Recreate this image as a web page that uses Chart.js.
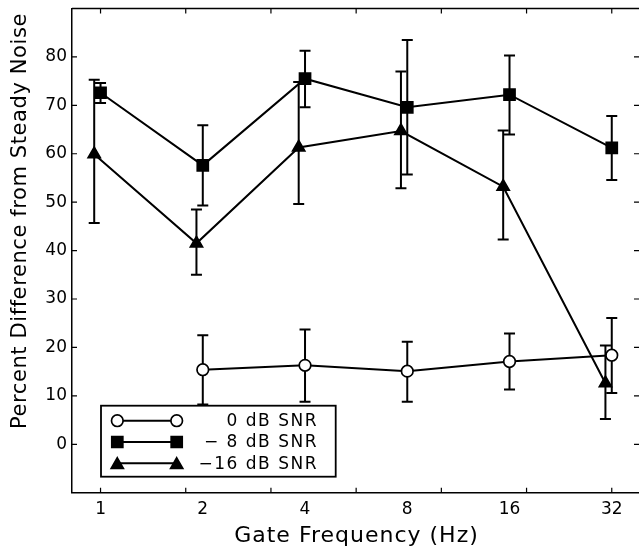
<!DOCTYPE html>
<html>
<head>
<meta charset="utf-8">
<script src="https://cdn.jsdelivr.net/npm/chart.js@4.4.1/dist/chart.umd.min.js"></script>
<style>
html, body { margin: 0; padding: 0; background: #fff; }
canvas { display: block; }
</style>
</head>
<body>
<canvas id="c" width="639" height="550"></canvas>
<script>
// ---- data ----
const frequencies = [1, 2, 4, 8, 16, 32];
const tickLabels = ['1', '2', '4', '8', '16', '32'];
const seriesNames = ['0 dB SNR', '\u2212 8 dB SNR', '\u221216 dB SNR'];
const xTitle = 'Gate Frequency (Hz)';
const yTitle = 'Percent Difference from Steady Noise';

const snr0 = [null, 15.4, 16.3, 15.1, 17.1, 18.4];
const snr0Upper = [null, 22.5, 23.7, 21.2, 22.9, 26.1];
const snr0Lower = [null, 8.2, 8.8, 8.8, 11.3, 10.6];

const snr8 = [72.6, 57.6, 75.5, 69.6, 72.2, 61.2];
const snr8Upper = [74.6, 65.9, 81.3, 83.5, 80.3, 67.8];
const snr8Lower = [70.5, 49.3, 69.6, 55.7, 64.0, 54.6];

const snr16 = [59.9, 41.5, 61.3, 64.7, 53.2, 12.6];
const snr16Upper = [75.3, 48.5, 74.8, 77.0, 64.8, 20.4];
const snr16Lower = [45.7, 35.0, 49.6, 52.9, 42.3, 5.2];

const yTickValues = [0, 10, 20, 30, 40, 50, 60, 70, 80];

// ---- style ----
const FONT = 'DejaVu Sans';
const TRI_SHIFT = 0.958;        // small horizontal stagger of the -16 dB series
const MINOR_STEPS = 6;          // frame tick marks (log2 span 0..5 in 6 steps)

const pts = (vals, shift) => frequencies.map((f, i) => ({ x: f * shift, y: vals[i] }));

const seriesStyles = [
  { style: 'circle', radius: 5.8, fill: '#fff', shift: 1, up: snr0Upper, lo: snr0Lower, vals: snr0 },
  { style: 'rect', radius: 7.8, fill: '#000', shift: 1, up: snr8Upper, lo: snr8Lower, vals: snr8 },
  { style: 'triangle', radius: 7.0, fill: '#000', shift: TRI_SHIFT, up: snr16Upper, lo: snr16Lower, vals: snr16 }
];

const datasets = seriesStyles.map((s, k) => ({
  label: seriesNames[k],
  data: pts(s.vals, s.shift),
  borderColor: '#000',
  borderWidth: 2,
  tension: 0,
  fill: false,
  pointStyle: s.style,
  pointRadius: s.radius,
  pointHoverRadius: s.radius,
  pointBackgroundColor: s.fill,
  pointBorderColor: '#000',
  pointBorderWidth: 1.7,
  spanGaps: false
}));

const errorBarPlugin = {
  id: 'errorBars',
  beforeDatasetsDraw(chart) {
    const ctx = chart.ctx;
    const xs = chart.scales.x, ys = chart.scales.y;
    ctx.save();
    ctx.strokeStyle = '#000';
    ctx.lineWidth = 2;
    seriesStyles.forEach(s => {
      frequencies.forEach((f, i) => {
        if (s.up[i] == null || s.lo[i] == null) return;
        const x = xs.getPixelForValue(f * s.shift);
        const yu = ys.getPixelForValue(s.up[i]);
        const yl = ys.getPixelForValue(s.lo[i]);
        ctx.beginPath();
        ctx.moveTo(x, yu); ctx.lineTo(x, yl);
        ctx.moveTo(x - 5.5, yu); ctx.lineTo(x + 5.5, yu);
        ctx.moveTo(x - 5.5, yl); ctx.lineTo(x + 5.5, yl);
        ctx.stroke();
      });
    });
    ctx.restore();
  }
};

const framePlugin = {
  id: 'frame',
  afterDatasetsDraw(chart) {
    const ctx = chart.ctx;
    const a = chart.chartArea;
    const xs = chart.scales.x, ys = chart.scales.y;
    ctx.save();
    ctx.strokeStyle = '#000';
    ctx.lineWidth = 1.5;
    ctx.beginPath();
    ctx.moveTo(a.left, a.top); ctx.lineTo(a.right, a.top);
    ctx.stroke();
    ctx.lineWidth = 1.2;
    ctx.beginPath();
    const lo = frequencies[0], hi = frequencies[frequencies.length - 1];
    for (let k = 0; k <= MINOR_STEPS; k++) {
      const v = lo * Math.pow(hi / lo, k / MINOR_STEPS);
      const x = xs.getPixelForValue(v);
      ctx.moveTo(x, a.bottom); ctx.lineTo(x, a.bottom - 5);
      ctx.moveTo(x, a.top); ctx.lineTo(x, a.top + 5);
    }
    yTickValues.forEach(v => {
      const y = ys.getPixelForValue(v);
      ctx.moveTo(a.left, y); ctx.lineTo(a.left + 5, y);
      ctx.moveTo(a.right, y); ctx.lineTo(a.right - 5, y);
    });
    ctx.stroke();
    ctx.restore();
  }
};

const titlePlugin = {
  id: 'axisTitles',
  afterDraw(chart) {
    const ctx = chart.ctx;
    const a = chart.chartArea;
    ctx.save();
    ctx.fillStyle = '#000';
    ctx.font = '22px "' + FONT + '"';
    try { ctx.letterSpacing = '1px'; } catch (e) {}
    ctx.textAlign = 'center';
    ctx.textBaseline = 'alphabetic';
    ctx.fillText(xTitle, (a.left + a.right) / 2 + 1, 541.5);
    ctx.font = '21px "' + FONT + '"';
    try { ctx.letterSpacing = '0.6px'; } catch (e) {}
    ctx.translate(26, 221);
    ctx.rotate(-Math.PI / 2);
    ctx.fillText(yTitle, 0, 0);
    ctx.restore();
  }
};

const legendPlugin = {
  id: 'boxLegend',
  afterDraw(chart) {
    const ctx = chart.ctx;
    const bx = 101, by = 405.7, bw = 234.7, bh = 71;
    ctx.save();
    ctx.fillStyle = '#fff';
    ctx.fillRect(bx, by, bw, bh);
    ctx.strokeStyle = '#000';
    ctx.lineWidth = 1.8;
    ctx.strokeRect(bx, by, bw, bh);
    seriesStyles.forEach((s, k) => {
      const y = by + 15 + k * 21.3;
      const x1 = bx + 16.3, x2 = bx + 75.7;
      ctx.strokeStyle = '#000';
      ctx.lineWidth = 2;
      ctx.beginPath(); ctx.moveTo(x1, y); ctx.lineTo(x2, y); ctx.stroke();
      [x1, x2].forEach(x => {
        ctx.fillStyle = s.fill;
        ctx.strokeStyle = '#000';
        ctx.lineWidth = 1.7;
        const py = s.style === 'triangle' ? y + 1.5 : y;
        Chart.helpers.drawPoint(ctx, { pointStyle: s.style, radius: s.radius, borderWidth: 1.7, rotation: 0 }, x, py);
      });
      ctx.fillStyle = '#000';
      ctx.font = '17px "' + FONT + '"';
      ctx.textAlign = 'right';
      ctx.textBaseline = 'middle';
      try { ctx.letterSpacing = '1.5px'; } catch (e) {}
      ctx.fillText(seriesNames[k], bx + 217, y + 1);
    });
    ctx.restore();
  }
};

new Chart(document.getElementById('c'), {
  type: 'line',
  data: { datasets },
  plugins: [errorBarPlugin, framePlugin, titlePlugin, legendPlugin],
  options: {
    responsive: false,
    animation: false,
    events: [],
    layout: { autoPadding: false, padding: { top: 8.5, right: 0, bottom: 0, left: 0 } },
    plugins: { legend: { display: false }, tooltip: { enabled: false } },
    scales: {
      x: {
        type: 'logarithmic',
        min: 0.8241,
        max: 38.49,
        afterBuildTicks: s => { s.ticks = frequencies.map(v => ({ value: v })); },
        afterFit: s => { s.height = 57.3; s.paddingLeft = 0; s.paddingRight = 0; },
        grid: { display: false, drawTicks: false },
        border: { display: true, color: '#000', width: 1.5 },
        ticks: {
          autoSkip: false, maxRotation: 0, color: '#000', padding: 8,
          font: { family: FONT, size: 17, lineHeight: 1 },
          callback: v => tickLabels[frequencies.indexOf(v)]
        },
        title: { display: false }
      },
      y: {
        type: 'linear',
        min: -10,
        max: 90,
        afterBuildTicks: s => { s.ticks = yTickValues.map(v => ({ value: v })); },
        afterFit: s => { s.width = 72; s.paddingTop = 0; s.paddingBottom = 0; },
        grid: { display: false, drawTicks: false },
        border: { display: true, color: '#000', width: 1.5 },
        ticks: {
          color: '#000', padding: 5,
          font: { family: FONT, size: 17, lineHeight: 1 }
        },
        title: { display: false }
      }
    }
  }
});
</script>
</body>
</html>
